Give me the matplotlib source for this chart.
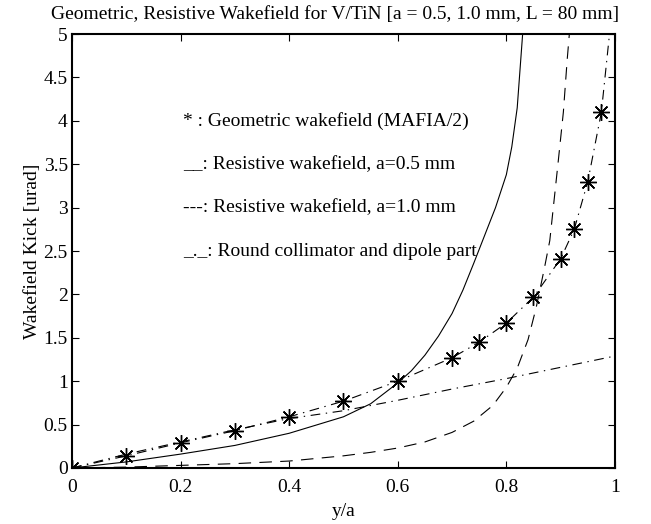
import matplotlib
matplotlib.use("Agg")
import matplotlib.pyplot as plt

plt.rcParams['font.family'] = ['Liberation Serif', 'DejaVu Serif']
plt.rcParams['lines.scale_dashes'] = False

# geometric wakefield (MAFIA/2), star markers
geo_x = [0.0, 0.1, 0.2, 0.3, 0.4, 0.5, 0.6, 0.7, 0.75, 0.8, 0.85, 0.9, 0.925, 0.95, 0.975]
geo_y = [0.0, 0.14, 0.29, 0.43, 0.59, 0.77, 1.0, 1.27, 1.45, 1.67, 1.97, 2.41, 2.75, 3.3, 4.1]
# dash-dot curve through the stars, runs off the top
geo_line_x = geo_x + [0.99]
geo_line_y = geo_y + [5.0]

# resistive wakefield a=0.5 mm (solid)
res05_x = [0.0, 0.1, 0.2, 0.3, 0.4, 0.5, 0.55, 0.6, 0.625, 0.65, 0.675, 0.7, 0.72, 0.74, 0.76,
           0.78, 0.8, 0.81, 0.82, 0.83]
res05_y = [0.0, 0.07, 0.16, 0.26, 0.40, 0.59, 0.74, 0.98, 1.12, 1.30, 1.52, 1.78, 2.05, 2.36, 2.68,
           3.0, 3.38, 3.70, 4.15, 5.0]

# resistive wakefield a=1.0 mm (dashed)
res10_x = [0.0, 0.1, 0.2, 0.3, 0.4, 0.5, 0.55, 0.6, 0.65, 0.7, 0.74, 0.775, 0.8, 0.82, 0.84,
           0.855, 0.87, 0.88, 0.895, 0.905, 0.912, 0.916]
res10_y = [0.0, 0.01, 0.03, 0.05, 0.08, 0.14, 0.18, 0.23, 0.30, 0.41, 0.54, 0.72, 0.93, 1.15, 1.48,
           1.85, 2.30, 2.62, 3.50, 4.10, 4.70, 5.0]

# round collimator and dipole part (dash-dot)
round_x = [0.0, 0.1, 0.2, 0.3, 0.4, 0.5, 0.6, 0.7, 0.8, 0.9, 1.0]
round_y = [0.0, 0.16, 0.30, 0.44, 0.57, 0.66, 0.78, 0.91, 1.03, 1.16, 1.29]

notes = ["* : Geometric wakefield (MAFIA/2)",
         "__: Resistive wakefield, a=0.5 mm",
         "---: Resistive wakefield, a=1.0 mm",
         "_._: Round collimator and dipole part"]
note_y = [4.0, 3.5, 3.0, 2.5]

fig = plt.figure(figsize=(6.51, 5.24), dpi=100)
ax = fig.add_axes([0.1106, 0.1069, 0.834, 0.828])

ax.plot(res05_x, res05_y, color='black', lw=0.8)
ax.plot(res10_x, res10_y, color='black', lw=0.8, dashes=(9, 6))
ax.plot(round_x, round_y, color='black', lw=0.8, dashes=(7, 4, 1, 4))
ax.plot(geo_line_x, geo_line_y, color='black', lw=0.8, dashes=(7, 4, 1, 4))
ax.plot(geo_x, geo_y, linestyle='none', marker=(8, 2, 0), ms=12, mec='black',
        mew=1.0, color='black')

for txt, yy in zip(notes, note_y):
    ax.text(0.205, yy, txt, fontsize=14, va='center', ha='left')

ax.set_xlim(0, 1)
ax.set_ylim(0, 5)
ax.set_xticks([0, 0.2, 0.4, 0.6, 0.8, 1])
ax.set_xticklabels(['0', '0.2', '0.4', '0.6', '0.8', '1'])
ax.set_yticks([0, 0.5, 1, 1.5, 2, 2.5, 3, 3.5, 4, 4.5, 5])
ax.set_yticklabels(['0', '0.5', '1', '1.5', '2', '2.5', '3', '3.5', '4', '4.5', '5'])
ax.tick_params(direction='in', top=True, right=True, length=5, width=0.8,
               labelsize=14)
ax.tick_params(axis='x', pad=8)
ax.tick_params(axis='y', pad=3)
for sp in ax.spines.values():
    sp.set_linewidth(1.5)

ax.set_title("Geometric, Resistive Wakefield for V/TiN [a = 0.5, 1.0 mm, L = 80 mm]",
             fontsize=14, pad=11, x=0.485)
ax.set_xlabel("y/a", fontsize=14, labelpad=5)
ax.set_ylabel("Wakefield Kick [urad]", fontsize=14, labelpad=2)

fig.savefig("out.png", dpi=100)
